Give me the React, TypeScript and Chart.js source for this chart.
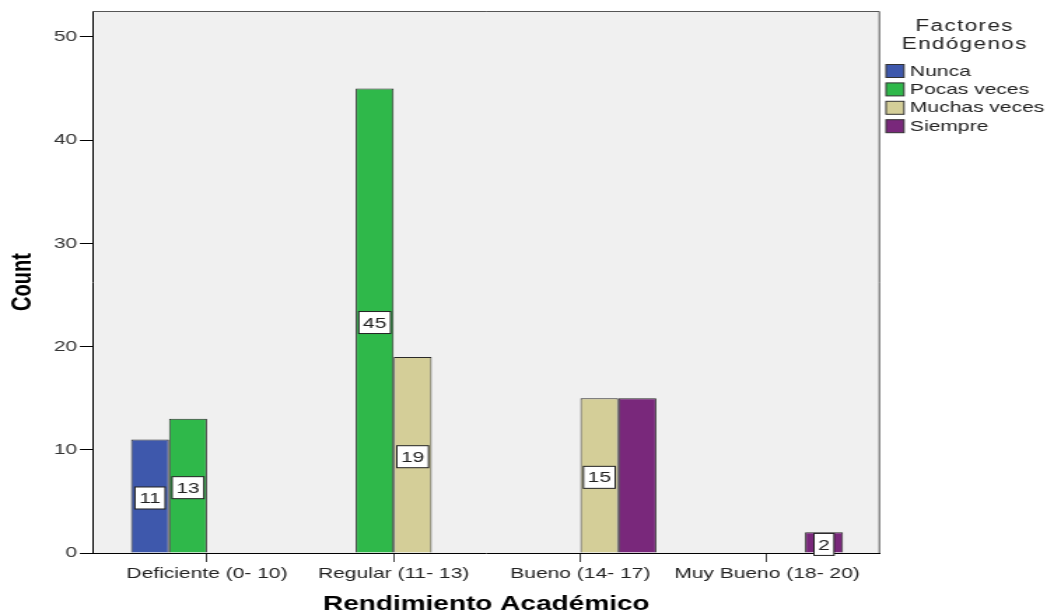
import React, { useEffect, useRef } from "react";
import { Chart, registerables } from "chart.js";

Chart.register(...registerables);

// ---- data ----
const categories = ["Deficiente (0- 10)", "Regular (11- 13)", "Bueno (14- 17)", "Muy Bueno (18- 20)"];
const seriesNames = ["Nunca", "Pocas veces", "Muchas veces", "Siempre"];
const nunca = [11, null, null, null];
const pocasVeces = [13, 45, null, null];
const muchasVeces = [null, 19, 15, null];
const siempre = [null, null, 15, 2];
// which bars carry a value label in the reference (one list per series)
const nuncaLabels = [true, false, false, false];
const pocasVecesLabels = [true, true, false, false];
const muchasVecesLabels = [false, true, true, false];
const siempreLabels = [false, false, false, true];
const seriesColors = ["#3e58ac", "#2fb84a", "#d4ce98", "#79287b"];
const yTickValues = [0, 10, 20, 30, 40, 50];
const legendTitle = ["Factores", "Endógenos"];
const xTitle = "Rendimiento Académico";
const yTitle = "Count";

// ---- layout (the reference is stretched horizontally) ----
const W = 1054;
const H = 614;
const CW = 753; // internal canvas width, CSS-stretched to W
const K = W / CW;
const PLOT_LEFT = 92.5 / K;
const PLOT_RIGHT = 880 / K;
const PLOT_TOP = 10;
const PLOT_BOTTOM = 553;
const FONT = "'Liberation Sans', Arial, sans-serif";

const allSeries = [nunca, pocasVeces, muchasVeces, siempre];
const allLabels = [nuncaLabels, pocasVecesLabels, muchasVecesLabels, siempreLabels];

const bgPlugin = {
  id: "bgFrame",
  beforeDraw(chart: any) {
    const { ctx, chartArea: a } = chart;
    ctx.save();
    ctx.fillStyle = "#f0f0f0";
    ctx.fillRect(a.left, a.top, a.right - a.left, a.bottom - a.top);
    ctx.restore();
  },
  afterDraw(chart: any) {
    const { ctx, chartArea: a } = chart;
    ctx.save();
    ctx.strokeStyle = "#555";
    ctx.lineWidth = 1;
    ctx.beginPath();
    ctx.moveTo(a.left, a.top + 0.5);
    ctx.lineTo(a.right - 0.5, a.top + 0.5);
    ctx.lineTo(a.right - 0.5, a.bottom);
    ctx.stroke();
    ctx.restore();
  },
};

const valueLabelPlugin = {
  id: "valueLabels",
  afterDatasetsDraw(chart: any) {
    const { ctx } = chart;
    ctx.save();
    ctx.font = `15px ${FONT}`;
    ctx.textAlign = "center";
    ctx.textBaseline = "middle";
    chart.data.datasets.forEach((ds: any, di: number) => {
      const meta = chart.getDatasetMeta(di);
      meta.data.forEach((el: any, i: number) => {
        const v = ds.data[i].y;
        if (v === null || v === undefined) return;
        if (!allLabels[di][i]) return;
        const text = String(v);
        const cx = el.x;
        const cy = (el.y + el.base) / 2 + 2;
        const tw = ctx.measureText(text).width;
        const bw = tw + 6;
        const bh = 22;
        ctx.fillStyle = "#ffffff";
        ctx.fillRect(cx - bw / 2, cy - bh / 2, bw, bh);
        ctx.strokeStyle = "#222";
        ctx.lineWidth = 1;
        ctx.strokeRect(cx - bw / 2, cy - bh / 2, bw, bh);
        ctx.fillStyle = "#222";
        ctx.fillText(text, cx, cy + 1);
      });
    });
    ctx.restore();
  },
};

const legendPlugin = {
  id: "customLegend",
  afterDraw(chart: any) {
    const { ctx } = chart;
    ctx.save();
    const cx = 964 / K;
    ctx.fillStyle = "#222";
    ctx.textAlign = "center";
    ctx.textBaseline = "middle";
    ctx.font = `16px ${FONT}`;
    try { (ctx as any).letterSpacing = "1px"; } catch (e) {}
    legendTitle.forEach((t, i) => ctx.fillText(t, cx + 0.5, 27 + i * 18));
    try { (ctx as any).letterSpacing = "0px"; } catch (e) {}
    ctx.font = `15px ${FONT}`;
    ctx.textAlign = "left";
    chart.data.datasets.forEach((ds: any, i: number) => {
      const y = 71 + i * 18.4;
      const sx = 886 / K;
      const sw = 18 / K;
      ctx.fillStyle = ds.backgroundColor;
      ctx.fillRect(sx, y - 6.5, sw, 13);
      ctx.strokeStyle = "#333";
      ctx.lineWidth = 1;
      ctx.strokeRect(sx, y - 6.5, sw, 13);
      ctx.fillStyle = "#222";
      ctx.fillText(ds.label, 910 / K, y + 0.5);
    });
    ctx.restore();
  },
};

export default function App() {
  const ref = useRef<HTMLCanvasElement | null>(null);

  useEffect(() => {
    document.body.style.margin = "0";
    const canvas = ref.current;
    if (!canvas) return;
    const datasets = allSeries.map((arr, si) => ({
      label: seriesNames[si],
      data: arr.map((v, i) => ({ x: i, y: v })),
      backgroundColor: seriesColors[si],
      borderColor: "#2a2a2a",
      borderWidth: 1,
      categoryPercentage: 0.8143,
      barPercentage: 1,
    }));
    const chart = new Chart(canvas, {
      type: "bar",
      data: { datasets } as any,
      plugins: [bgPlugin, valueLabelPlugin, legendPlugin],
      options: {
        responsive: false,
        animation: false,
        devicePixelRatio: 1,
        layout: { padding: { top: PLOT_TOP, right: CW - PLOT_RIGHT, left: 0, bottom: 0 } },
        plugins: { legend: { display: false }, tooltip: { enabled: false } },
        scales: {
          x: {
            type: "linear",
            offset: false,
            min: -(207 - 92.5) / 186.67,
            max: 3 + (880 - 767) / 186.67,
            afterBuildTicks: (s: any) => {
              s.ticks = categories.map((_, i) => ({ value: i }));
            },
            afterFit: (s: any) => {
              s.height = H - PLOT_BOTTOM;
            },
            ticks: {
              callback: (v: any) => categories[v] ?? "",
              font: { family: FONT, size: 15 },
              color: "#222",
              padding: 3,
              maxRotation: 0,
              autoSkip: false,
            },
            grid: { offset: false, drawOnChartArea: false, drawTicks: true, tickLength: 9, color: "#444" },
            border: { display: true, color: "#000", width: 1 },
            title: {
              display: true,
              text: xTitle,
              font: { family: FONT, size: 20, weight: "bold", lineHeight: 1 },
              color: "#000",
              padding: { top: 0, bottom: 0 },
            },
          },
          y: {
            type: "linear",
            min: 0,
            max: 543 / 10.34,
            afterBuildTicks: (s: any) => {
              s.ticks = yTickValues.map((v) => ({ value: v }));
            },
            afterFit: (s: any) => {
              s.width = PLOT_LEFT;
            },
            ticks: {
              font: { family: FONT, size: 15 },
              color: "#333",
              padding: 2,
            },
            grid: { drawOnChartArea: false, drawTicks: true, tickLength: 9, color: "#000" },
            border: { display: true, color: "#000", width: 1 },
            title: {
              display: true,
              text: yTitle,
              font: { family: FONT, size: 20, weight: "bold", lineHeight: 1 },
              color: "#000",
              padding: { top: 6, bottom: 0 },
            },
          },
        },
      } as any,
    });
    return () => chart.destroy();
  }, []);

  return (
    <div style={{ width: W, height: H, overflow: "hidden", background: "#fff" }}>
      <canvas
        ref={ref}
        width={CW}
        height={H}
        style={{ width: W + "px", height: H + "px", display: "block" }}
      />
    </div>
  );
}
